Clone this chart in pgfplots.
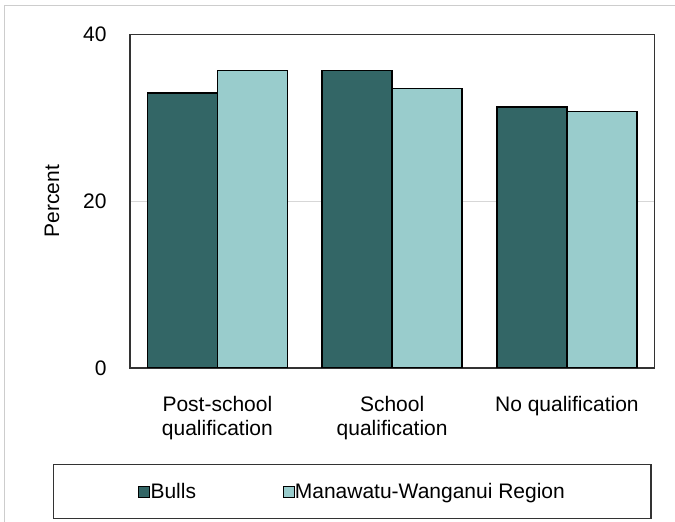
\documentclass[border=0pt]{standalone}
\usepackage{pgfplots}
\pgfplotsset{compat=1.18}
\usepackage{fontspec}
\setmainfont{Liberation Sans}
\definecolor{bulls}{RGB}{51,102,102}
\definecolor{region}{RGB}{153,204,204}
\definecolor{frame}{RGB}{205,205,205}
\definecolor{gridc}{RGB}{215,215,215}
\begin{document}
\begin{tikzpicture}[x=1pt,y=1pt]
\path[use as bounding box] (0,0) rectangle (675,522);
\draw[frame, line width=1.5pt] (4.7,0) -- (4.7,516.7) -- (675,516.7);
\draw[line width=1.5pt, black!80] (53.3,3.3) rectangle (651,57.7);
\begin{axis}[
  at={(130pt,154pt)}, anchor=south west,
  width=524.3pt, height=333.4pt, scale only axis,
  font=\fontsize{21}{24}\selectfont,
  /pgf/number format/assume math mode=true,
  xmin=-0.5, xmax=2.5, ymin=0, ymax=40,
  xtick={0,1,2},
  xticklabels={{Post-school\\qualification},{School\\qualification},{No qualification}},
  xticklabel style={align=center, yshift=-25pt},
  ytick={0,20,40},
  yticklabel style={xshift=-20pt},
  major tick length=0pt,
  ymajorgrids, grid style={gridc, line width=1pt},
  axis line style={black!80, line width=1.5pt},
  ylabel={Percent},
  ylabel style={at={(axis description cs:-0.1488,0.5)}, anchor=center},
  ybar=0pt, bar width=70pt,
  legend style={at={(axis description cs:0.0153,-0.3704)}, anchor=west,
    draw=none, fill=none, inner sep=0pt, font=\fontsize{21}{24}\selectfont,
    nodes={inner sep=0.5pt},
    /tikz/every even column/.append style={column sep=86pt}},
  legend columns=2,
  legend cell align=left,
  sq/.style={legend image code/.code={\draw[##1, draw=black, line width=0.8pt] (0pt,-5.5pt) rectangle (11pt,5.5pt);}},
]
\addplot[fill=bulls, draw=black, line width=1.4pt, sq] coordinates {(0,33.0) (1,35.7) (2,31.3)};
\addplot[fill=region, draw=black, line width=1.4pt, sq] coordinates {(0,35.7) (1,33.5) (2,30.8)};
\legend{Bulls, Manawatu-Wanganui Region}
\end{axis}
\end{tikzpicture}
\end{document}
